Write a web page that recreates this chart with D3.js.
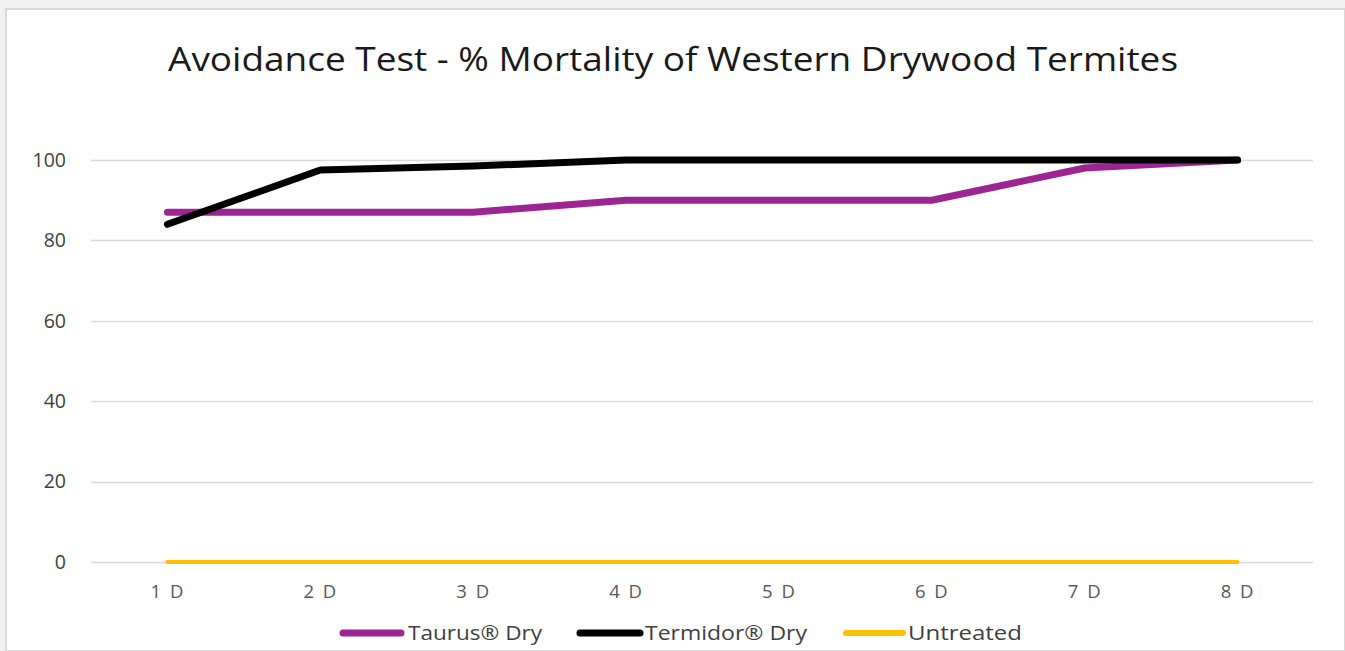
<!DOCTYPE html>
<html>
<head>
<meta charset="utf-8">
<script src="https://cdn.jsdelivr.net/npm/d3@7/dist/d3.min.js"></script>
<style>
  html, body { margin: 0; padding: 0; background: #fff; }
  svg { display: block; }
</style>
</head>
<body>
<svg id="chart" width="1345" height="651"></svg>
<script>
const categories = ["1 D", "2 D", "3 D", "4 D", "5 D", "6 D", "7 D", "8 D"];
const taurus   = [87, 87, 87, 90, 90, 90, 98, 100];
const termidor = [84, 97.5, 98.5, 100, 100, 100, 100, 100];
const untreated = [0, 0, 0, 0, 0, 0, 0, 0];
const yTicks = [0, 20, 40, 60, 80, 100];
const seriesNames = ["Taurus® Dry", "Termidor® Dry", "Untreated"];
const seriesColors = ["#9c2591", "#000000", "#ffc000"];
const seriesWidths = [7, 7, 4];
const seriesData = [taurus, termidor, untreated];

const svg = d3.select("#chart");
const W = 1345, H = 651;

// frame / background
svg.append("rect").attr("x", 0).attr("y", 0).attr("width", W).attr("height", H).attr("fill", "#f2f2f2");
svg.append("rect").attr("x", 6).attr("y", 9).attr("width", W - 6).attr("height", H - 9)
  .attr("fill", "#ffffff").attr("stroke", "#d9d9d9").attr("stroke-width", 2);

const x = d3.scalePoint().domain(categories).range([91, 1314]).padding(0.5);
const y = d3.scaleLinear().domain([0, 100]).range([562, 160]);

// title
svg.append("text")
  .attr("x", 673).attr("y", 71)
  .attr("text-anchor", "middle")
  .attr("font-family", "'Open Sans', sans-serif")
  .attr("font-size", 33)
  .attr("fill", "#1a1a1a")
  .attr("textLength", 1010).attr("lengthAdjust", "spacingAndGlyphs")
  .text("Avoidance Test - % Mortality of Western Drywood Termites");

// gridlines
svg.append("g").selectAll("line").data(yTicks).join("line")
  .attr("x1", 91).attr("x2", 1313)
  .attr("y1", d => Math.round(y(d)) + 0.5).attr("y2", d => Math.round(y(d)) + 0.5)
  .attr("stroke", "#d9d9d9").attr("stroke-width", 1.5);

// y axis labels
const yAxis = d3.axisLeft(y).tickValues(yTicks).tickSize(0).tickPadding(0);
const yg = svg.append("g").attr("transform", "translate(66,0)").call(yAxis);
yg.select(".domain").remove();
yg.selectAll("text")
  .attr("font-family", "'Open Sans', sans-serif")
  .attr("font-size", 19.5).attr("fill", "#404040");

// x axis labels
const xAxis = d3.axisBottom(x).tickSize(0).tickPadding(0);
const xg = svg.append("g").attr("transform", "translate(0,585)").call(xAxis);
xg.select(".domain").remove();
xg.selectAll("text")
  .attr("font-family", "'Open Sans', sans-serif")
  .attr("font-size", 18.5).attr("fill", "#595959").attr("letter-spacing", "2");

// lines
const line = d3.line().x((d, i) => x(categories[i])).y(d => y(d));
[2, 0, 1].forEach(s => {
  svg.append("path").datum(seriesData[s])
    .attr("d", line)
    .attr("fill", "none")
    .attr("stroke", seriesColors[s])
    .attr("stroke-width", seriesWidths[s])
    .attr("stroke-linecap", "round")
    .attr("stroke-linejoin", "round");
});

// legend
const legendItems = [
  { sx1: 343, sx2: 401, tx: 408, tl: 134 },
  { sx1: 580, sx2: 640, tx: 645, tl: 162 },
  { sx1: 846, sx2: 903, tx: 908, tl: 114 }
];
const lg = svg.append("g");
legendItems.forEach((it, i) => {
  lg.append("line").attr("x1", it.sx1).attr("x2", it.sx2).attr("y1", 633).attr("y2", 633)
    .attr("stroke", seriesColors[i]).attr("stroke-width", i === 2 ? 6 : 7)
    .attr("stroke-linecap", "round");
  lg.append("text").attr("x", it.tx).attr("y", 640)
    .attr("font-family", "'Open Sans', sans-serif")
    .attr("font-size", 20).attr("fill", "#404040")
    .attr("textLength", it.tl).attr("lengthAdjust", "spacingAndGlyphs")
    .text(seriesNames[i]);
});
</script>
</body>
</html>
